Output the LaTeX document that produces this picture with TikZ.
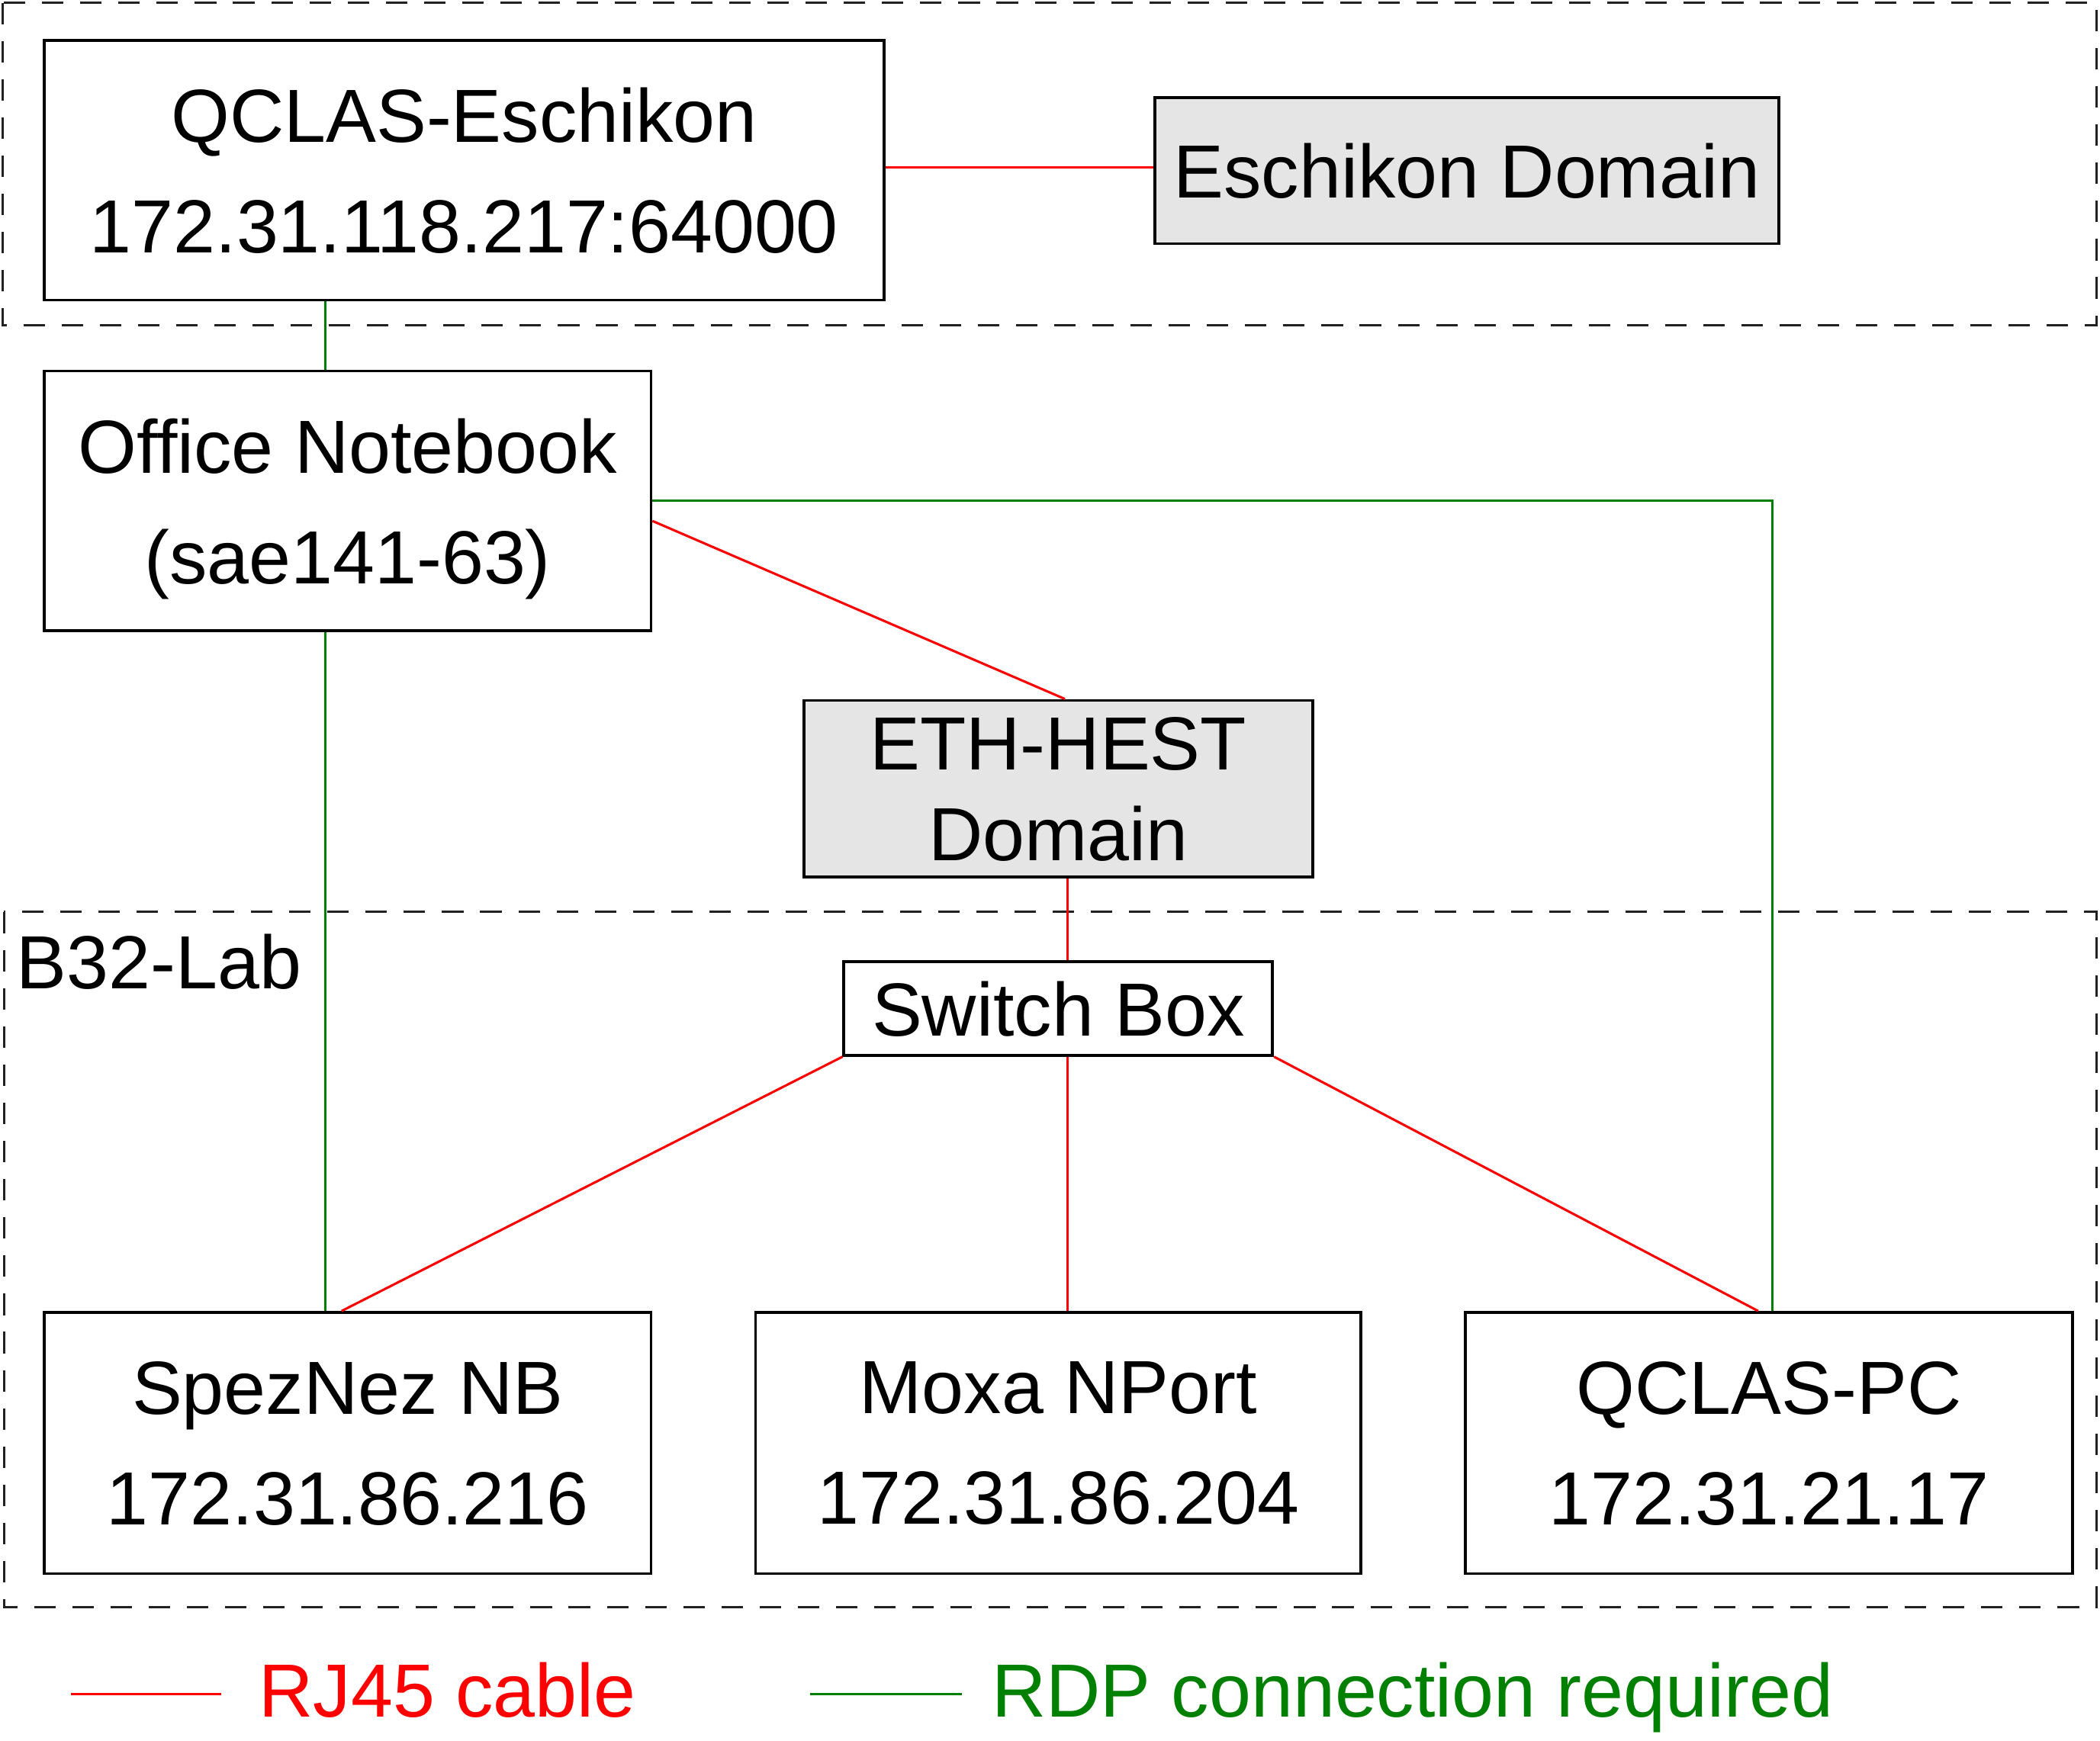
\documentclass[tikz,border=0pt]{standalone}
\usepackage{fontspec}
\setmainfont{Liberation Sans}
\usepackage{tikz}
\usetikzlibrary{shapes}
\tikzstyle{hostbox}=[rectangle,draw=black,line width=1.2pt,fill=white,align=center,text depth=0pt,inner sep=0mm,minimum width=9.06cm,minimum height=3.88cm]
\tikzstyle{domainbox}=[rectangle,draw=black,line width=1.2pt,fill=black!10,align=center,text depth=0pt,inner sep=0mm]
\tikzstyle{zone}=[draw=black!87,line width=1pt,dash pattern=on 0.32cm off 0.25cm]
\tikzstyle{rj}=[red,line width=1pt]
\tikzstyle{rdp}=[green!50!black,line width=1pt]

\begin{document}
\begin{tikzpicture}[font=\fontsize{32}{47}\selectfont]
    \useasboundingbox (0,0) rectangle (31.354,-26);
    % zones
    \draw[zone] (0.04,-0.04) rectangle (31.30,-4.86);
    \draw[zone] (0.06,-13.62) rectangle (31.30,-24.00);
    \node[anchor=base west,inner sep=0mm] at (0.24,-14.76) (lab) {B32-Lab};
    % hosts and domains
    \node[hostbox,minimum width=12.54cm] at (6.93,-2.54) (qclas) {QCLAS-Eschikon\\172.31.118.217:64000};
    \node[domainbox,minimum width=9.32cm,minimum height=2.18cm] at (21.90,-2.55) (eschdom) {Eschikon Domain};
    \node[hostbox] at (5.19,-7.48) (office) {Office Notebook\\(sae141-63)};
    \node[domainbox,minimum width=7.6cm,minimum height=2.64cm,font=\fontsize{32}{38.7}\selectfont] at (15.80,-11.78) (eth) {ETH-HEST\\Domain};
    \node[hostbox,minimum width=6.4cm,minimum height=1.4cm] at (15.80,-15.06) (switch) {Switch Box};
    \node[hostbox,minimum height=3.9cm] at (5.19,-21.55) (spez) {SpezNez NB\\172.31.86.216};
    \node[hostbox,minimum width=9.04cm,minimum height=3.9cm] at (15.80,-21.55) (moxa) {Moxa NPort\\172.31.86.204};
    \node[hostbox,minimum height=3.9cm] at (26.41,-21.55) (qpc) {QCLAS-PC\\172.31.21.17};
    \coordinate (gx) at (4.86,0);
    % RJ45 cables
    \draw[rj] ([yshift=0.04cm]qclas.east) to ([yshift=0.04cm]qclas.east -| eschdom.west);
    \draw[rj] ([yshift=-0.3cm]office.east) to ([xshift=0.1cm]eth.north);
    \draw[rj] ([xshift=0.14cm]eth.south) to ([xshift=0.14cm]switch.north);
    \draw[rj] (switch.south west) to ([xshift=-0.09cm]spez.north);
    \draw[rj] ([xshift=0.14cm]switch.south) to ([xshift=0.14cm]moxa.north);
    \draw[rj] (switch.south east) to ([xshift=-0.16cm]qpc.north);
    % RDP connections
    \draw[rdp] (qclas.south -| gx) to (office.north -| gx);
    \draw[rdp] (office.south -| gx) to (spez.north -| gx);
    \draw[rdp] (office.east) -| ([xshift=0.05cm]qpc.north);
    % legend
    \coordinate (rj1) at (1.06,-25.30);
    \coordinate (rj2) at (3.30,-25.30);
    \node[anchor=base west,inner sep=0mm,text=red] at (3.86,-25.64) (rjtext) {RJ45 cable};
    \coordinate (rdp1) at (12.10,-25.30);
    \coordinate (rdp2) at (14.36,-25.30);
    \node[anchor=base west,inner sep=0mm,text=green!50!black] at (14.80,-25.64) (rdptext) {RDP connection required};
    \draw[rj] (rj1) to (rj2);
    \draw[rdp] (rdp1) to (rdp2);
\end{tikzpicture}
\end{document}
